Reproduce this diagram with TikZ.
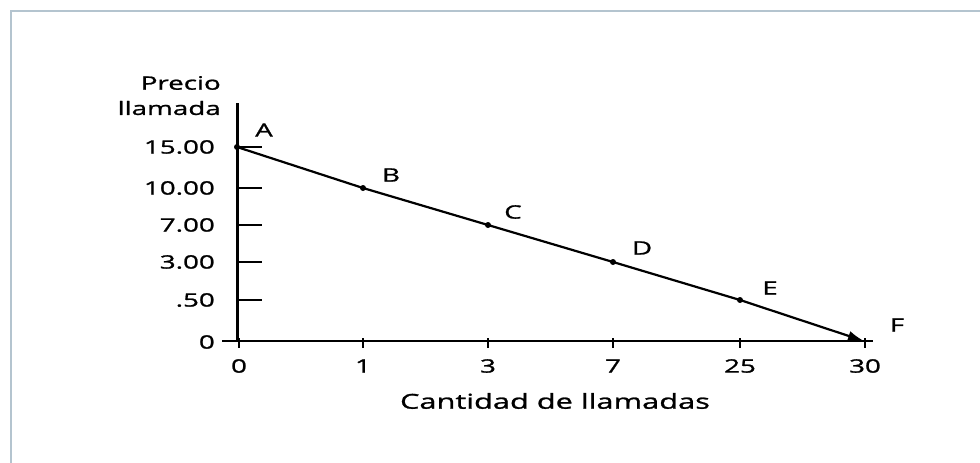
\documentclass[tikz,border=0pt]{standalone}
\usepackage{fontspec}
\setmainfont{Open Sans}[FakeStretch=1.5, FakeBold=1.2]
\usetikzlibrary{arrows.meta}
\definecolor{framecol}{RGB}{180,196,207}
\tikzset{
  lbl/.style={inner sep=0pt, font=\fontsize{18.5}{20}\selectfont},
  ylbl/.style={lbl, anchor=east},
  xlbl/.style={lbl, anchor=center},
  ptlbl/.style={lbl, anchor=center},
  dot/.style={circle, fill=black, inner sep=0pt, minimum size=6pt},
  axis/.style={line width=3pt, black},
  tick/.style={line width=2.5pt, black},
  curve/.style={line width=2.2pt, black},
  framel/.style={line width=2.5pt, framecol}
}
\begin{document}
\begin{tikzpicture}[x=1pt, y=-1pt]
\useasboundingbox (0,0) rectangle (980,463);
\fill[white] (0,0) rectangle (980,463);
% frame
\draw[framel] (980,11) -- (11,11) -- (11,463);
% axes
\coordinate (ytop) at (237,103);
\coordinate (orig) at (237,342);
\coordinate (xleft) at (222,341);
\coordinate (xright) at (873,341);
\draw[axis] (ytop) -- (orig);
\draw[line width=2.5pt] (xleft) -- (xright);
% y ticks and labels
\foreach \yy/\tx/\nm in {147/15.00/y1, 188/10.00/y2, 225/7.00/y3, 262/3.00/y4, 300/.50/y5}{
  \draw[tick] (237,\yy) -- (262,\yy);
  \node[ylbl] (\nm) at (215,\yy) {\tx};
}
\node[ylbl] (y0) at (215,342) {0};
% x ticks and labels
\foreach \xx/\tx/\nm in {239/0/x0, 363/1/x1, 488/3/x2, 613/7/x3, 740/25/x4, 865/30/x5}{
  \draw[tick] (\xx,338) -- (\xx,348);
  \node[xlbl] (\nm) at (\xx,366) {\tx};
}
% axis titles
\node[ylbl] (prec) at (221,83) {Precio};
\node[ylbl] (llam) at (221,108) {llamada};
\node[lbl, anchor=center, font=\fontsize{20.5}{22}\selectfont] (cant) at (555,401) {Cantidad de llamadas};
% points
\node[dot] (A) at (237,147) {};
\node[dot] (B) at (363,188) {};
\node[dot] (C) at (488,225) {};
\node[dot] (D) at (613,262) {};
\node[dot] (E) at (740,300) {};
\coordinate (F) at (864,341);
\draw[curve] (A.center) -- (B.center) -- (C.center) -- (D.center) -- (E.center);
\draw[curve, -{Latex[length=16pt, width=10pt]}] (E.center) -- (F);
% point labels
\node[ptlbl] (lA) at (264,130) {A};
\node[ptlbl] (lB) at (391,175) {B};
\node[ptlbl] (lC) at (513,212) {C};
\node[ptlbl] (lD) at (642,248) {D};
\node[ptlbl] (lE) at (770,288) {E};
\node[ptlbl] (lF) at (897,325) {F};
\end{tikzpicture}
\end{document}
